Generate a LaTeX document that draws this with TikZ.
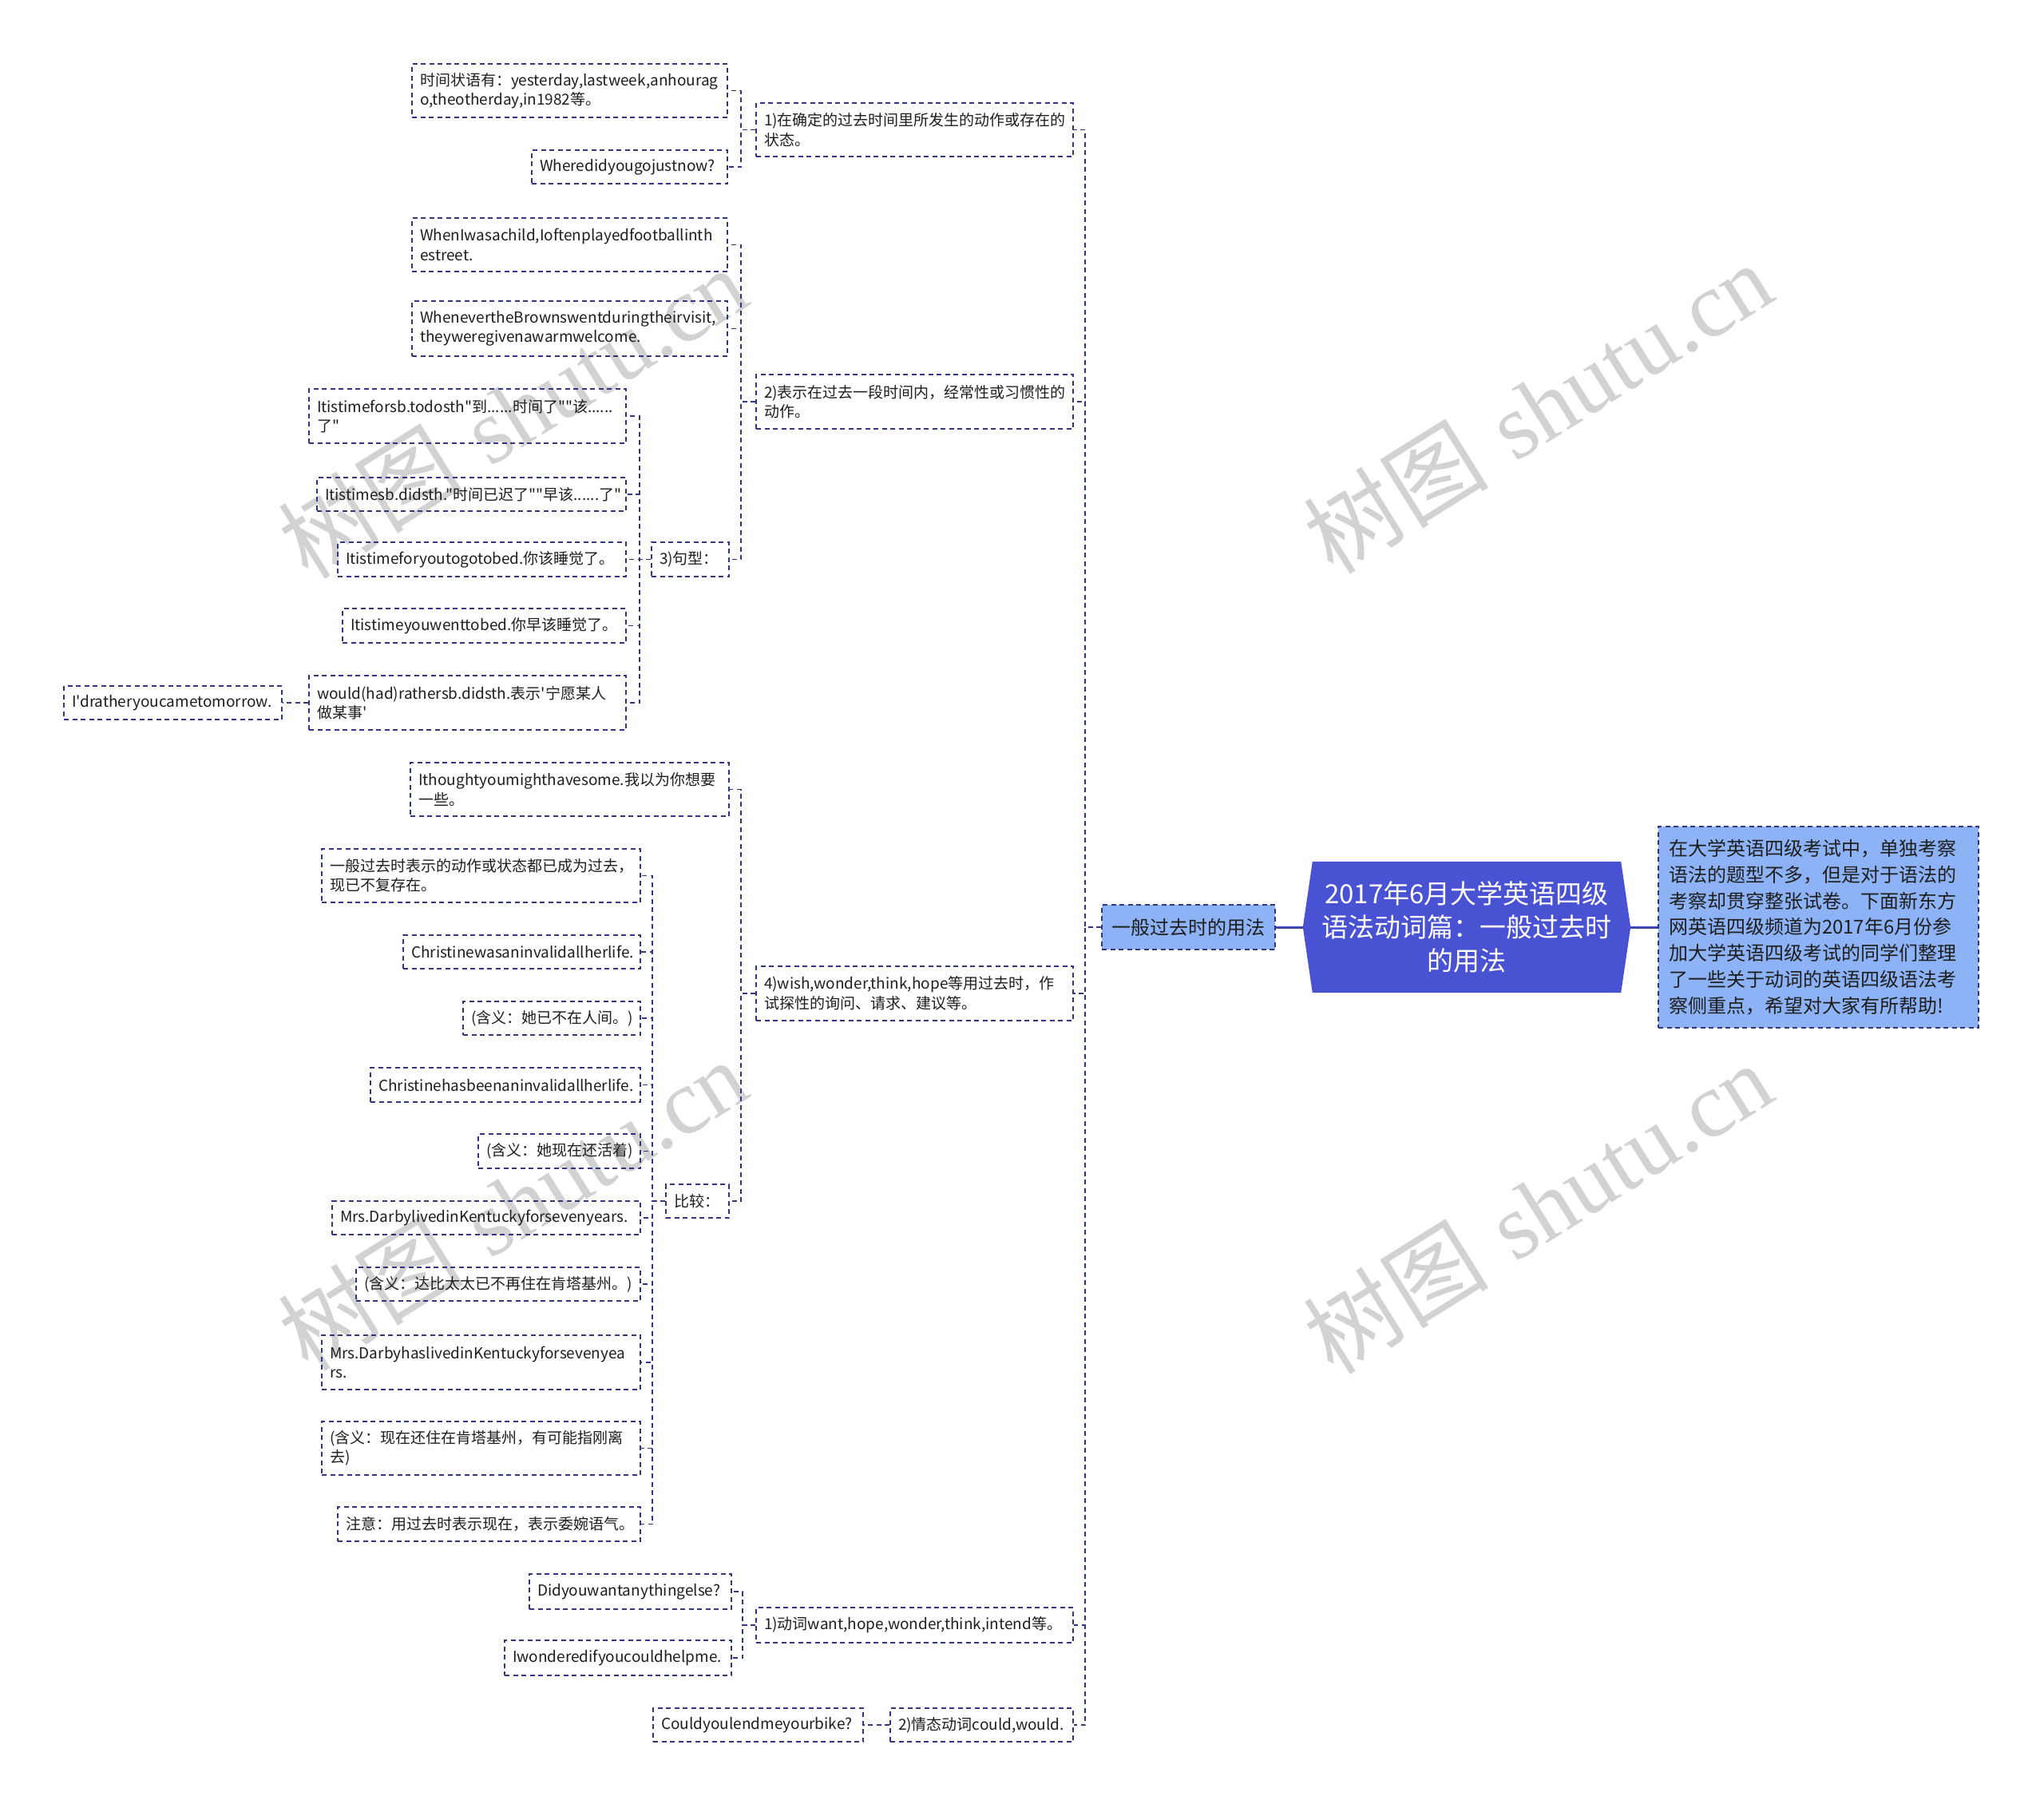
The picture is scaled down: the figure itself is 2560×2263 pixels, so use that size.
\documentclass[tikz,border=0pt]{standalone}
\usepackage{fontspec}
\newfontfamily\cjk{Noto Sans CJK SC}
\newfontfamily\wmserif{Liberation Serif}
\usetikzlibrary{calc}
\definecolor{nav}{HTML}{33357F}
\definecolor{rootblue}{HTML}{4A52D4}
\definecolor{lightblue}{HTML}{8DB3F6}
\definecolor{txt}{HTML}{1E1E1E}
\definecolor{wmgray}{HTML}{D2D2D2}
\pgfdeclarelayer{bg}
\pgfsetlayers{bg,main}
\tikzset{
  box/.style={draw=nav, line width=1.5pt, dash pattern=on 6pt off 4.5pt,
    inner xsep=10pt, inner ysep=0pt, align=left, text=txt,
    font=\cjk\fontsize{19}{24.5}\selectfont},
  conn/.style={draw=nav, line width=1.6pt, dash pattern=on 6pt off 4.5pt},
  rootline/.style={draw=rootblue!85!black, line width=3pt},
  rootnode/.style={minimum width=386pt, minimum height=164pt, inner sep=0pt,
    text=white, align=center, font=\cjk\fontsize{33}{42}\selectfont},
  wm/.style={text=wmgray, rotate=32, inner sep=0pt, font=\fontsize{116}{116}\selectfont}
}
\newcommand\mybox[7]{%
  \pgfmathsetmacro\bxw{#4-#3-20}%
  \pgfmathsetmacro\bxh{#6-#5}%
  \node[box,#1,text width=\bxw pt,minimum height=\bxh pt] (#2) at ({(#3+#4)/2},{(#5+#6)/2}) {#7};}
\begin{document}
\begin{tikzpicture}[x=1pt,y=-1pt]
\useasboundingbox (0,0) rectangle (2560,2263);
\begin{pgfonlayer}{bg}
\fill[white] (0,0) rectangle (2560,2263);
\end{pgfonlayer}
% watermarks
\node[wm] (wm1) at (642,516) {{\cjk 树图} {\wmserif shutu.cn}};
\node[wm] (wm2) at (1926,510) {{\cjk 树图} {\wmserif shutu.cn}};
\node[wm] (wm3) at (642,1508) {{\cjk 树图} {\wmserif shutu.cn}};
\node[wm] (wm4) at (1926,1512) {{\cjk 树图} {\wmserif shutu.cn}};
% root
\node[rootnode] (root) at (1837,1161) {2017年6月大学英语四级\\语法动词篇：一般过去时\\的用法};
\begin{pgfonlayer}{bg}
\fill[rootblue] (root.north west) -- ($(root.west)+(-12,0)$) -- (root.south west) -- (root.south east) -- ($(root.east)+(12,0)$) -- (root.north east) -- cycle;
\end{pgfonlayer}
\node[box, fill=lightblue, text width=375pt, inner xsep=13pt, minimum height=252pt,
  font=\cjk\fontsize{24}{32.7}\selectfont] (intro) at (2277.5,1161)
  {在大学英语四级考试中，单独考察\\语法的题型不多，但是对于语法的\\考察却贯穿整张试卷。下面新东方\\网英语四级频道为2017年6月份参\\加大学英语四级考试的同学们整理\\了一些关于动词的英语四级语法考\\察侧重点，希望对大家有所帮助!};
\node[box, fill=lightblue, align=center, minimum width=217pt, minimum height=56pt,
  inner xsep=0pt, font=\cjk\fontsize{24}{28}\selectfont] (L1) at (1488.5,1161) {一般过去时的用法};
\draw[rootline] ($(root.west)+(-12,0)$) -- (L1.east);
\draw[rootline] ($(root.east)+(12,0)$) -- (intro.west);
% level 2
\mybox{}{A}{947}{1344}{129}{196}{1)在确定的过去时间里所发生的动作或存在的\\状态。}
\mybox{}{B}{947}{1344}{469}{537}{2)表示在过去一段时间内，经常性或习惯性的\\动作。}
\mybox{}{D}{947}{1344}{1210}{1278}{4)wish,wonder,think,hope等用过去时，作\\试探性的询问、请求、建议等。}
\mybox{}{E}{947}{1344}{2013}{2057}{1)动词want,hope,wonder,think,intend等。}
\mybox{}{F}{1115}{1344}{2139}{2181}{2)情态动词could,would.}
% A children
\mybox{}{A1}{516}{911}{80}{147}{时间状语有：yesterday,lastweek,anhourag\\o,theotherday,in1982等。}
\mybox{}{A2}{666}{911}{188}{230}{Wheredidyougojustnow?}
% B children
\mybox{}{B1}{516}{911}{273}{340}{WhenIwasachild,Ioftenplayedfootballinth\\estreet.}
\mybox{}{B2}{516}{911}{377}{446}{WhenevertheBrownswentduringtheirvisit,\\theyweregivenawarmwelcome.}
\mybox{}{C}{816}{913}{679}{722}{3)句型：}
% C children
\mybox{}{C1}{387}{784}{487}{555}{Itistimeforsb.todosth"到......时间了""该......\\了"}
\mybox{}{C2}{397}{784}{598}{640}{Itistimesb.didsth."时间已迟了""早该......了"}
\mybox{}{C3}{423}{784}{679}{722}{Itistimeforyoutogotobed.你该睡觉了。}
\mybox{}{C4}{429}{784}{762}{805}{Itistimeyouwenttobed.你早该睡觉了。}
\mybox{}{C5}{387}{784}{846}{914}{would(had)rathersb.didsth.表示'宁愿某人\\做某事'}
\mybox{}{C5a}{80}{353}{859}{901}{I'dratheryoucametomorrow.}
% D children
\mybox{}{D1}{514}{913}{955}{1022}{Ithoughtyoumighthavesome.我以为你想要\\一些。}
\mybox{}{D2}{834}{913}{1483}{1525}{比较：}
\mybox{}{K1}{403}{802}{1063}{1130}{一般过去时表示的动作或状态都已成为过去，\\现已不复存在。}
\mybox{}{K2}{505}{802}{1171}{1213}{Christinewasaninvalidallherlife.}
\mybox{}{K3}{580}{802}{1254}{1296}{(含义：她已不在人间。)}
\mybox{}{K4}{464}{802}{1337}{1380}{Christinehasbeenaninvalidallherlife.}
\mybox{}{K5}{599}{802}{1420}{1463}{(含义：她现在还活着)}
\mybox{}{K6}{416}{802}{1504}{1546}{Mrs.DarbylivedinKentuckyforsevenyears.}
\mybox{}{K7}{446}{802}{1587}{1629}{(含义：达比太太已不再住在肯塔基州。)}
\mybox{}{K8}{403}{802}{1672}{1740}{Mrs.DarbyhaslivedinKentuckyforsevenyea\\rs.}
\mybox{}{K9}{403}{802}{1780}{1847}{(含义：现在还住在肯塔基州，有可能指刚离\\去)}
\mybox{}{K10}{423}{802}{1887}{1930}{注意：用过去时表示现在，表示委婉语气。}
% E, F children
\mybox{}{E1}{663}{916}{1971}{2015}{Didyouwantanythingelse?}
\mybox{}{E2}{632}{916}{2054}{2098}{Iwonderedifyoucouldhelpme.}
\mybox{}{F1}{818}{1081}{2139}{2181}{Couldyoulendmeyourbike?}
% connectors
\foreach \ch in {A,B,D,E,F} \draw[conn] (L1.west) -- ++(-20,0) |- (\ch.east);
\foreach \ch in {A1,A2} \draw[conn] (A.west) -- ++(-18,0) |- (\ch.east);
\foreach \ch in {B1,B2,C} \draw[conn] (B.west) -- ++(-18,0) |- (\ch.east);
\foreach \ch in {C1,C2,C3,C4,C5} \draw[conn] (C.west) -- ++(-14,0) |- (\ch.east);
\draw[conn] (C5.west) -- (C5a.east);
\foreach \ch in {D1,D2} \draw[conn] (D.west) -- ++(-18,0) |- (\ch.east);
\foreach \ch in {K1,K2,K3,K4,K5,K6,K7,K8,K9,K10} \draw[conn] (D2.west) -- ++(-16,0) |- (\ch.east);
\foreach \ch in {E1,E2} \draw[conn] (E.west) -- ++(-16,0) |- (\ch.east);
\draw[conn] (F.west) -- (F1.east);
\end{tikzpicture}
\end{document}
